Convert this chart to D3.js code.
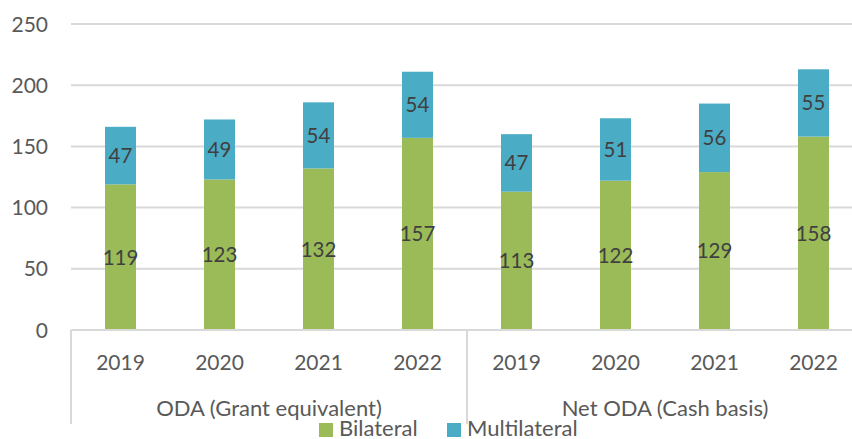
<!DOCTYPE html>
<html>
<head>
<meta charset="utf-8">
<script src="https://cdn.jsdelivr.net/npm/d3@7"></script>
<style>
  body { margin: 0; background: #fff; }
  svg text { font-family: Lato, "Open Sans", sans-serif; }
</style>
</head>
<body>
<div id="chart"></div>
<script>
// Data
const groups = ["ODA (Grant equivalent)", "Net ODA (Cash basis)"];
const years = ["2019", "2020", "2021", "2022"];
const bilateral = [119, 123, 132, 157, 113, 122, 129, 158];
const multilateral = [47, 49, 54, 54, 47, 51, 56, 55];
const yTicks = [0, 50, 100, 150, 200, 250];
const seriesNames = ["Bilateral", "Multilateral"];
const seriesColors = ["#9bbb59", "#4bacc6"];

// Size
const wSvg = 852, hSvg = 439;
const plotLeft = 71, plotRight = 863, plotTop = 24, plotBottom = 330;

const svg = d3.select("#chart").append("svg")
    .attr("width", wSvg)
    .attr("height", hSvg);

// keys for every bar: group index + year
const keys = [];
groups.forEach((g, gi) => years.forEach(y => keys.push(gi + "-" + y)));

const rows = keys.map((k, i) => ({
    key: k,
    year: years[i % years.length],
    bilateral: bilateral[i],
    multilateral: multilateral[i]
}));

// Scales
const xScale = d3.scaleBand()
    .domain(keys)
    .range([plotLeft, plotRight])
    .paddingInner(0.687)
    .paddingOuter(0.687 / 2);

const yScale = d3.scaleLinear()
    .domain([0, 250])
    .range([plotBottom, plotTop]);

const groupScale = d3.scaleBand()
    .domain(groups)
    .range([plotLeft, plotRight]);

// Gridlines
svg.append("g")
    .selectAll("line")
    .data(yTicks)
    .join("line")
    .attr("x1", plotLeft)
    .attr("x2", wSvg)
    .attr("y1", d => yScale(d))
    .attr("y2", d => yScale(d))
    .attr("stroke", "#d9d9d9")
    .attr("stroke-width", 2);

// Y labels
svg.append("g")
    .selectAll("text")
    .data(yTicks)
    .join("text")
    .attr("x", 48)
    .attr("y", d => yScale(d))
    .attr("dy", "0.36em")
    .attr("text-anchor", "end")
    .attr("font-size", 21)
    .attr("fill", "#595959")
    .text(d => d);

// Stacks
const stack = d3.stack().keys(["bilateral", "multilateral"]);
const stacked = stack(rows);

const layers = svg.append("g")
    .selectAll("g")
    .data(stacked)
    .join("g")
    .attr("fill", (d, i) => seriesColors[i]);

layers.selectAll("rect")
    .data(d => d)
    .join("rect")
    .attr("x", d => xScale(d.data.key))
    .attr("width", xScale.bandwidth())
    .attr("y", d => yScale(d[1]))
    .attr("height", d => yScale(d[0]) - yScale(d[1]));

// Value labels
layers.selectAll("text")
    .data(d => d)
    .join("text")
    .attr("x", d => xScale(d.data.key) + xScale.bandwidth() / 2)
    .attr("y", d => yScale((d[0] + d[1]) / 2))
    .attr("dy", "0.36em")
    .attr("text-anchor", "middle")
    .attr("font-size", 20.5)
    .attr("fill", "#404040")
    .text(d => d[1] - d[0]);

// Category axis
const axis = svg.append("g").attr("stroke", "#d9d9d9").attr("stroke-width", 2);
axis.append("line")
    .attr("x1", plotLeft).attr("x2", wSvg)
    .attr("y1", plotBottom).attr("y2", plotBottom);
axis.selectAll("line.sep")
    .data([plotLeft, groupScale(groups[1]), plotRight])
    .join("line")
    .attr("class", "sep")
    .attr("x1", d => d).attr("x2", d => d)
    .attr("y1", plotBottom).attr("y2", 424);

svg.append("g")
    .selectAll("text")
    .data(rows)
    .join("text")
    .attr("x", d => xScale(d.key) + xScale.bandwidth() / 2)
    .attr("y", 370)
    .attr("text-anchor", "middle")
    .attr("font-size", 21)
    .attr("fill", "#595959")
    .text(d => d.year);

svg.append("g")
    .selectAll("text")
    .data(groups)
    .join("text")
    .attr("x", d => groupScale(d) + groupScale.bandwidth() / 2)
    .attr("y", 416)
    .attr("text-anchor", "middle")
    .attr("font-size", 22)
    .attr("fill", "#595959")
    .text(d => d);

// Legend
const legendX = [319, 447];
const legend = svg.append("g")
    .selectAll("g")
    .data(seriesNames)
    .join("g")
    .attr("transform", (d, i) => `translate(${legendX[i]}, 423)`);

legend.append("rect")
    .attr("width", 14)
    .attr("height", 14)
    .attr("fill", (d, i) => seriesColors[i]);

legend.append("text")
    .attr("x", 20)
    .attr("y", 13)
    .attr("font-size", 22)
    .attr("fill", "#595959")
    .text(d => d);
</script>
</body>
</html>
